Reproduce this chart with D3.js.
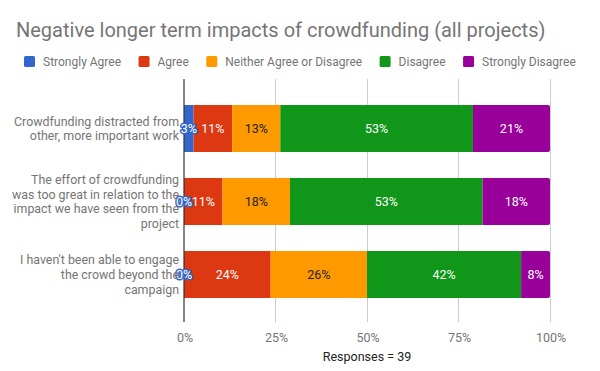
<!DOCTYPE html>
<html><head><meta charset="utf-8">
<script src="https://cdn.jsdelivr.net/npm/d3@7"></script>
<style>body{margin:0;background:#fff}svg{display:block;font-family:Roboto,Arial,sans-serif}</style>
</head><body><svg id="c" width="600" height="371"></svg>
<script>
const title = "Negative longer term impacts of crowdfunding (all projects)";
const categories = [
  ["Crowdfunding distracted from", "other, more important work"],
  ["The effort of crowdfunding", "was too great in relation to the", "impact we have seen from the", "project"],
  ["I haven't been able to engage", "the crowd beyond the", "campaign"]
];
const seriesNames = ["Strongly Agree", "Agree", "Neither Agree or Disagree", "Disagree", "Strongly Disagree"];
const colors = ["#3366cc", "#dc3912", "#ff9900", "#109618", "#990099"];
const stronglyAgree = [2.63, 0, 0];
const agree = [10.53, 10.53, 23.68];
const neither = [13.16, 18.42, 26.32];
const disagree = [52.63, 52.63, 42.11];
const stronglyDisagree = [21.05, 18.42, 7.89];
const tickValues = [0, 25, 50, 75, 100];
const footnote = "Responses = 39";

const series = [stronglyAgree, agree, neither, disagree, stronglyDisagree];
const svg = d3.select("#c");

svg.append("text").attr("x", 16).attr("y", 37).attr("font-size", 20).attr("fill", "#757575").text(title);

// legend
const leg = svg.append("g");
let lx = 24;
seriesNames.forEach((n, i) => {
  leg.append("rect").attr("x", lx).attr("y", 56).attr("width", 11).attr("height", 11).attr("rx", 1.5).attr("fill", colors[i]);
  const t = leg.append("text").attr("x", lx + 19).attr("y", 66).attr("font-size", 12).attr("fill", "#757575").text(n);
  lx += 19 + t.node().getComputedTextLength() + 17.5;
});

const x = d3.scaleLinear().domain([0, 100]).range([184, 550]);
const y = d3.scaleBand().domain(d3.range(categories.length)).range([92, 311]).paddingInner(26/73).paddingOuter(13/73);

// gridlines
svg.append("g").selectAll("line").data(tickValues.slice(1)).join("line")
  .attr("x1", d => x(d)).attr("x2", d => x(d)).attr("y1", 79).attr("y2", 322)
  .attr("stroke", "#cccccc").attr("stroke-width", 1).attr("shape-rendering", "crispEdges");

const stacked = categories.map((c, r) => {
  let acc = 0;
  return series.map((s, k) => { const v = s[r]; const o = {r, k, x0: acc, x1: acc + v, v}; acc += v; return o; });
});

const defs = svg.append("defs");
categories.forEach((c, r) => {
  defs.append("clipPath").attr("id", "clip" + r).append("rect")
    .attr("x", x(0) - 3).attr("y", y(r)).attr("width", x(100) - x(0) + 3).attr("height", y.bandwidth()).attr("rx", 2);
});

const rows = svg.append("g").selectAll("g").data(stacked).join("g").attr("clip-path", (d, r) => `url(#clip${r})`);
rows.selectAll("rect").data(d => d).join("rect")
  .attr("x", d => x(d.x0)).attr("width", d => x(d.x1) - x(d.x0))
  .attr("y", d => y(d.r)).attr("height", y.bandwidth())
  .attr("fill", d => colors[d.k]);

// axis line at 0
svg.append("line").attr("x1", x(0)).attr("x2", x(0)).attr("y1", 79).attr("y2", 322)
  .attr("stroke", "#333").attr("stroke-width", 1.2);

// value labels
const lab = svg.append("g").attr("font-size", 12.5).attr("text-anchor", "middle");
stacked.flat().forEach(d => {
  const cx = (x(d.x0) + x(d.x1)) / 2;
  const cy = y(d.r) + y.bandwidth() / 2 + 4.5;
  const txt = d3.format(".0f")(d.v) + "%";
  const small = (x(d.x1) - x(d.x0)) < 20;
  const t = lab.append("text").attr("x", cx).attr("y", cy).text(txt);
  if (small) {
    t.attr("fill", "#fff").attr("stroke", colors[d.k]).attr("stroke-width", 3).attr("paint-order", "stroke").attr("stroke-linejoin", "round");
  } else {
    t.attr("fill", d.k === 2 ? "#222" : "#fff");
  }
});

// category labels
const cl = svg.append("g").attr("font-size", 12.4).attr("fill", "#757575").attr("text-anchor", "end");
categories.forEach((lines, r) => {
  const cy = y(r) + y.bandwidth() / 2;
  const lh = 14.7;
  lines.forEach((ln, i) => {
    cl.append("text").attr("x", 179).attr("y", cy + (i - (lines.length - 1) / 2) * lh + 4.5).text(ln);
  });
});

// x tick labels
svg.append("g").attr("font-size", 12.5).attr("fill", "#757575").attr("text-anchor", "middle")
  .selectAll("text").data(tickValues).join("text")
  .attr("x", d => x(d) + 1).attr("y", 342).text(d => d + "%");

svg.append("text").attr("x", x(50)).attr("y", 361).attr("text-anchor", "middle").attr("font-size", 12.5).attr("fill", "#222").text(footnote);
</script></body></html>
